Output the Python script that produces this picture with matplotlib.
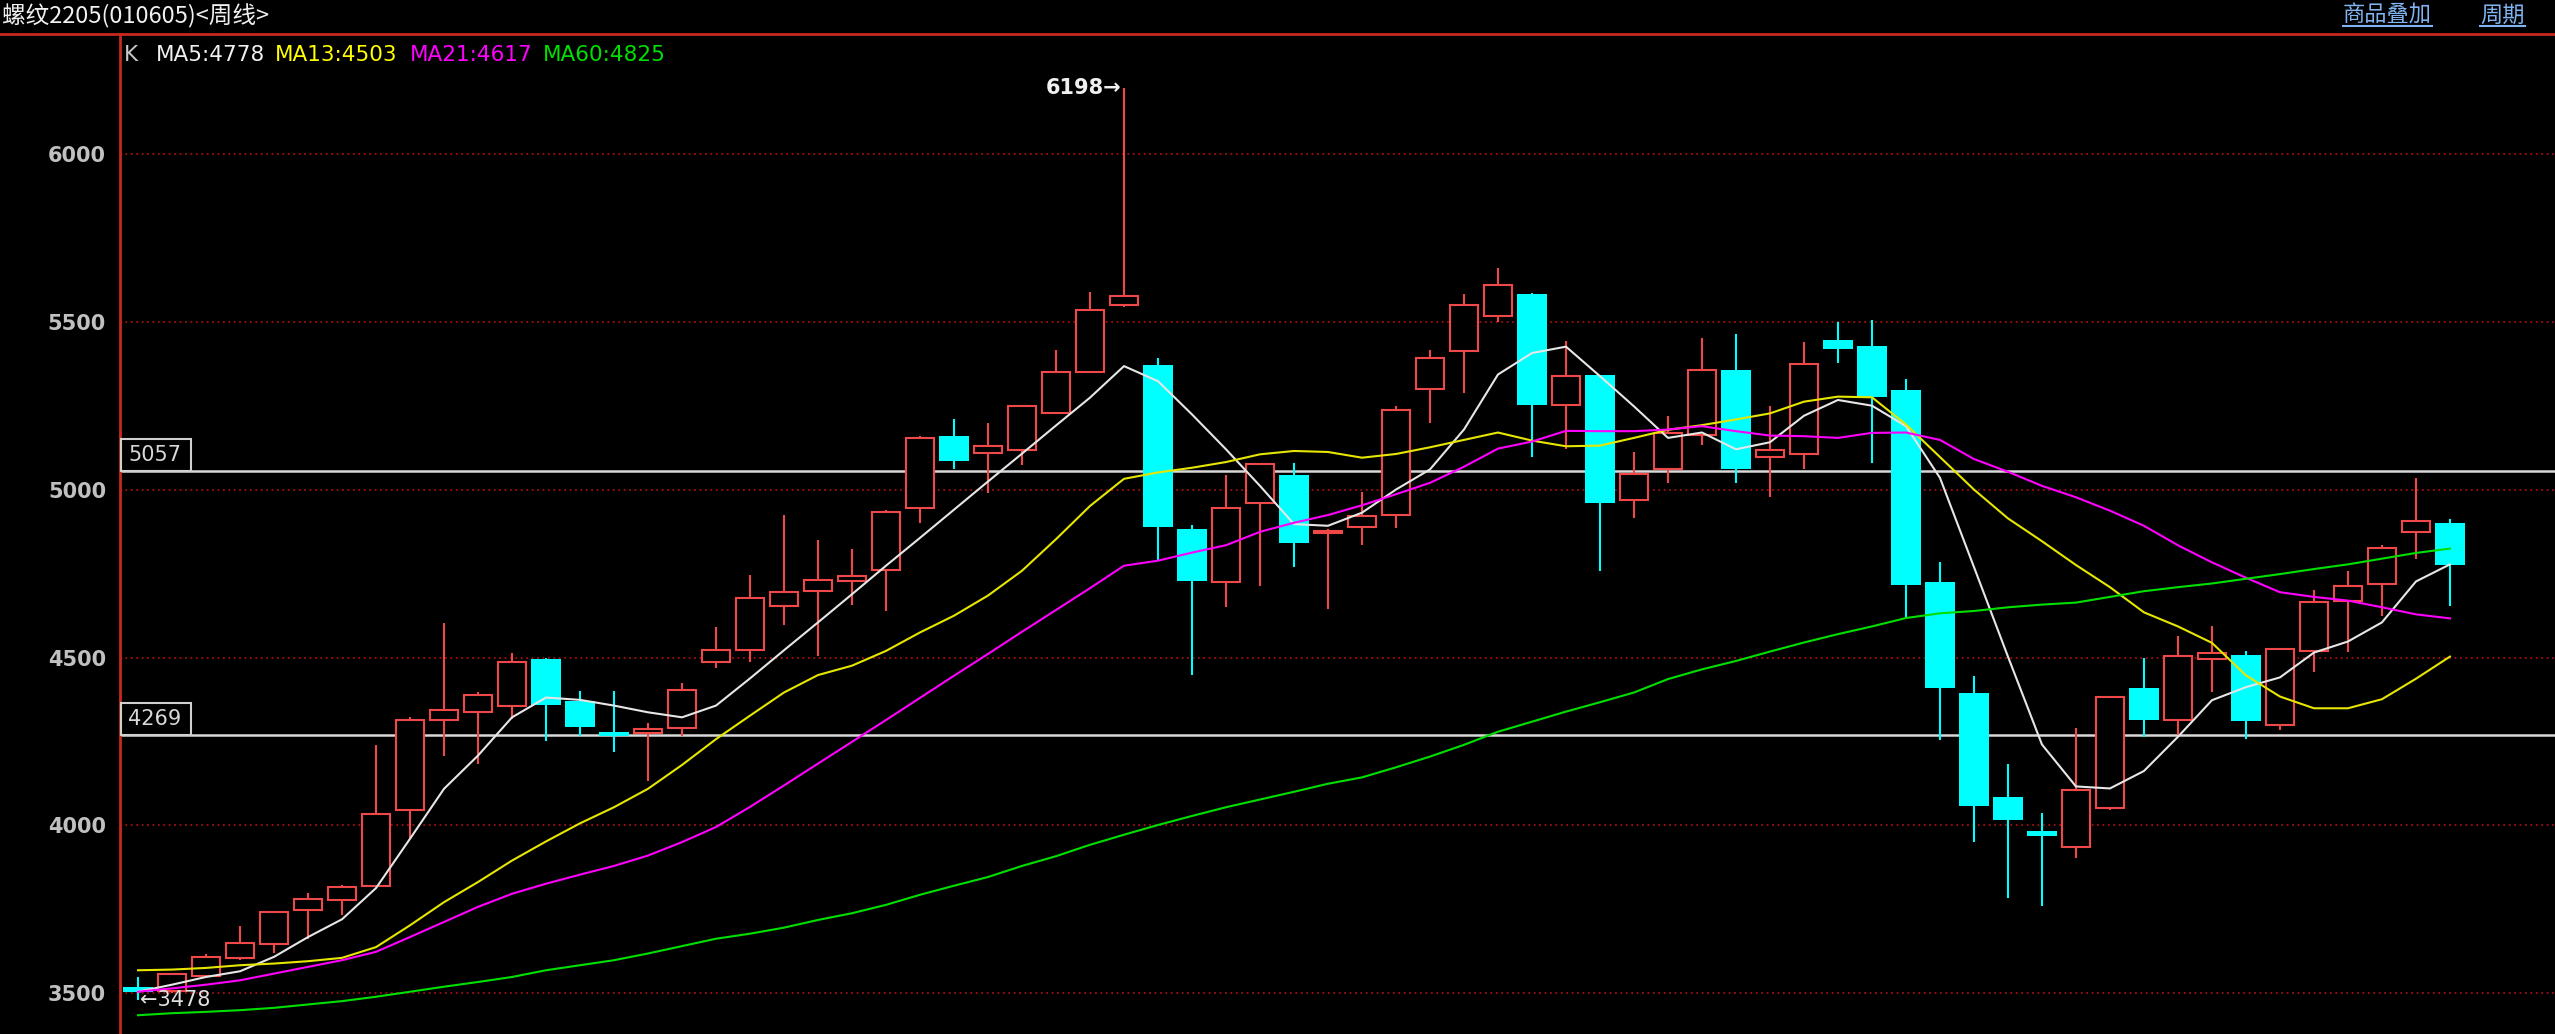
import matplotlib
matplotlib.use('Agg')
import matplotlib.pyplot as plt
from matplotlib.lines import Line2D
from matplotlib.patches import Rectangle
from matplotlib.transforms import blended_transform_factory
import numpy as np

plt.rcParams['font.family'] = ['Noto Sans CJK SC', 'DejaVu Sans']

# weekly candles, rebar 2205
opens = [3519, 3505, 3551, 3605, 3647, 3749, 3778, 3819, 4045, 4313,
         4337, 4356, 4496, 4371, 4279, 4275, 4289, 4487, 4522, 4653,
         4700, 4729, 4760, 4945, 5162, 5110, 5118, 5230, 5351, 5552,
         5371, 4883, 4724, 4962, 5043, 4871, 4890, 4925, 5302, 5415,
         5517, 5585, 5254, 5341, 4969, 5061, 5165, 5358, 5099, 5106,
         5448, 5430, 5298, 4724, 4395, 4084, 3984, 3935, 4052, 4409,
         4315, 4495, 4509, 4299, 4520, 4669, 4720, 4874, 4900]
highs = [3548, 3558, 3615, 3699, 3745, 3798, 3823, 4240, 4322, 4603,
         4398, 4513, 4500, 4399, 4399, 4305, 4424, 4590, 4746, 4926,
         4852, 4823, 4940, 5162, 5210, 5198, 5252, 5418, 5590, 6198,
         5393, 4894, 5043, 5078, 5079, 4882, 4995, 5249, 5418, 5584,
         5661, 5587, 5445, 5343, 5114, 5221, 5453, 5465, 5249, 5440,
         5501, 5507, 5330, 4784, 4444, 4183, 4038, 4290, 4386, 4499,
         4564, 4595, 4521, 4530, 4702, 4757, 4835, 5035, 4912]
lows = [3478, 3500, 3548, 3600, 3620, 3662, 3734, 3815, 3960, 4206,
        4183, 4317, 4252, 4265, 4218, 4133, 4265, 4468, 4486, 4598,
        4504, 4657, 4639, 4900, 5061, 4990, 5074, 5228, 5349, 5545,
        4788, 4448, 4652, 4712, 4770, 4646, 4836, 4885, 5200, 5289,
        5500, 5099, 5123, 4758, 4915, 5022, 5133, 5022, 4980, 5061,
        5379, 5081, 4618, 4255, 3949, 3783, 3759, 3902, 4047, 4262,
        4269, 4398, 4257, 4283, 4458, 4518, 4624, 4795, 4655]
closes = [3504, 3556, 3608, 3650, 3743, 3779, 3815, 4035, 4315, 4345,
          4388, 4488, 4360, 4294, 4265, 4286, 4404, 4523, 4678, 4696,
          4732, 4744, 4935, 5154, 5086, 5130, 5250, 5352, 5535, 5578,
          4890, 4729, 4947, 5076, 4841, 4877, 4922, 5237, 5392, 5552,
          5612, 5254, 5339, 4960, 5048, 5171, 5356, 5061, 5119, 5376,
          5420, 5277, 4715, 4410, 4058, 4016, 3969, 4104, 4384, 4315,
          4504, 4515, 4310, 4527, 4665, 4713, 4828, 4906, 4775]

ma5 = [3504, 3525, 3548, 3565, 3608, 3667, 3720, 3813, 3960, 4109,
       4208, 4322, 4381, 4374, 4357, 4337, 4322, 4357, 4438, 4522,
       4605, 4689, 4774, 4857, 4941, 5025, 5108, 5192, 5275, 5369,
       5324, 5225, 5121, 5012, 4898, 4893, 4932, 5001, 5061, 5180,
       5344, 5408, 5427, 5339, 5249, 5155, 5171, 5121, 5142, 5221,
       5268, 5251, 5190, 5036, 4770, 4503, 4241, 4116, 4110, 4162,
       4264, 4373, 4412, 4441, 4515, 4548, 4605, 4727, 4778]
ma13 = [3568, 3570, 3575, 3583, 3588, 3595, 3605, 3637, 3702, 3771,
        3831, 3895, 3952, 4006, 4054, 4109, 4180, 4257, 4327, 4396,
        4448, 4476, 4520, 4575, 4625, 4685, 4759, 4853, 4952, 5033,
        5052, 5066, 5083, 5106, 5116, 5113, 5096, 5107, 5127, 5149,
        5171, 5147, 5130, 5132, 5155, 5179, 5193, 5210, 5228, 5263,
        5278, 5276, 5195, 5098, 5001, 4915, 4847, 4776, 4710, 4635,
        4593, 4544, 4447, 4384, 4349, 4349, 4376, 4437, 4503]
ma21 = [3504, 3514, 3525, 3538, 3558, 3578, 3598, 3623, 3667, 3712,
        3757, 3796, 3826, 3853, 3879, 3910, 3950, 3995, 4055, 4119,
        4184, 4249, 4314, 4380, 4446, 4511, 4577, 4642, 4707, 4774,
        4789, 4813, 4835, 4875, 4902, 4925, 4954, 4987, 5021, 5069,
        5123, 5144, 5176, 5175, 5175, 5180, 5190, 5175, 5162, 5160,
        5155, 5170, 5171, 5149, 5092, 5054, 5012, 4978, 4938, 4893,
        4835, 4784, 4738, 4695, 4681, 4670, 4650, 4629, 4617]
ma60 = [3434, 3440, 3444, 3449, 3456, 3466, 3476, 3489, 3504, 3519,
        3533, 3548, 3568, 3583, 3598, 3618, 3640, 3662, 3677, 3695,
        3718, 3738, 3763, 3793, 3820, 3846, 3879, 3908, 3942, 3972,
        4001, 4028, 4054, 4077, 4100, 4124, 4143, 4173, 4205, 4240,
        4279, 4309, 4339, 4367, 4396, 4436, 4465, 4490, 4518, 4545,
        4570, 4593, 4618, 4632, 4639, 4650, 4658, 4664, 4681, 4698,
        4710, 4721, 4735, 4749, 4764, 4778, 4795, 4812, 4825]

ytick_values = [3500, 4000, 4500, 5000, 5500, 6000]
ref_levels = [5057, 4269]
title = '螺纹2205(010605)<周线>'

RED = '#f04848'
CYAN = '#00ffff'
GRID = '#a01010'
AXRED = '#c8281e'

W, H = 2555, 1034
fig = plt.figure(figsize=(W / 100, H / 100), dpi=100, facecolor='black')
ax = fig.add_axes([120 / W, 0, 1 - 120 / W, 1 - 34 / H])
ax.set_facecolor('black')

o = np.array(opens, float)
h = np.array(highs, float)
l = np.array(lows, float)
c = np.array(closes, float)
x = np.arange(len(c))
up = c >= o

ax.set_xlim(-0.53, 71.09)
ax.set_ylim(3378, 6359)

for v in ytick_values:
    ax.axhline(v, color=GRID, lw=1.3, ls=(0, (1, 2)), zorder=1)
for v in ref_levels:
    ax.axhline(v, color='#d8d8d8', lw=1.8, zorder=2)

# candles
ax.vlines(x[up], l[up], h[up], color=RED, lw=1.5, zorder=3)
ax.vlines(x[~up], l[~up], h[~up], color=CYAN, lw=1.5, zorder=3)
body_lo = np.minimum(o, c)
body_h = np.maximum(np.abs(c - o), 3)
ax.bar(x[up], body_h[up], bottom=body_lo[up], width=0.8,
       facecolor='black', edgecolor=RED, lw=1.5, zorder=4)
ax.bar(x[~up], body_h[~up], bottom=body_lo[~up], width=0.87,
       color=CYAN, lw=0, zorder=4)

# moving averages
ax.plot(x, ma5, color='#e6e6e6', lw=1.5, zorder=5)
ax.plot(x, ma13, color='#e6e600', lw=1.5, zorder=5)
ax.plot(x, ma21, color='#ff00ff', lw=1.5, zorder=5)
ax.plot(x, ma60, color='#00e000', lw=1.5, zorder=5)

# boxed labels for reference levels
tr = blended_transform_factory(ax.transAxes, ax.transData)
bw = 70 / (W - 120)
bh = 32 / 0.3354
for v in ref_levels:
    ax.add_patch(Rectangle((0.0005, v), bw, bh, transform=tr, facecolor='black',
                           edgecolor='#d0d0d0', lw=1.5, zorder=6, clip_on=False))
    ax.text(bw / 2, v + bh / 2, str(v), transform=tr, ha='center', va='center',
            color='#d8d8d8', fontsize=15, family='DejaVu Sans', zorder=7)

# extreme labels
imax = int(np.argmax(h))
ax.text(imax - 0.08, h[imax], f'{int(h[imax])}→', ha='right', va='center',
        color='#f0f0f0', fontsize=15, fontweight='bold', family='DejaVu Sans', zorder=7)
imin = int(np.argmin(l))
ax.text(imin + 0.05, l[imin], f'←{int(l[imin])}', ha='left', va='center',
        color='#e0e0e0', fontsize=15, family='DejaVu Sans', zorder=7)

# axes styling
ax.set_yticks(ytick_values)
ax.set_yticklabels([str(v) for v in ytick_values], family='DejaVu Sans', fontweight='bold')
ax.tick_params(axis='y', length=0, pad=10, labelcolor='#c0c0c0', labelsize=15)
ax.set_xticks([])
for s in ['top', 'right', 'bottom']:
    ax.spines[s].set_visible(False)
ax.spines['left'].set_color(AXRED)
ax.spines['left'].set_linewidth(2)

fig.add_artist(Line2D([0, 1], [1 - 34 / H, 1 - 34 / H], color=AXRED, lw=2,
                      transform=fig.transFigure))

# header
fig.text(2 / W, 1 - 16 / H, title, ha='left', va='center', color='#f0f0f0', fontsize=17)
links = [fig.text(2343 / W, 1 - 15 / H, '商品叠加', ha='left', va='center',
                  color='#80b4f0', fontsize=16),
         fig.text(2480 / W, 1 - 15 / H, '周期', ha='left', va='center',
                  color='#80b4f0', fontsize=16)]

# legend line
legend = [('K', None, '#c8c8c8', 124),
          ('MA5', ma5[-1], '#f0f0f0', 156),
          ('MA13', ma13[-1], '#ffff00', 275),
          ('MA21', ma21[-1], '#ff00ff', 410),
          ('MA60', ma60[-1], '#00e000', 543)]
for name, val, col, px in legend:
    s = name if val is None else f'{name}:{val}'
    fig.text(px / W, 1 - 55 / H, s, ha='left', va='center', color=col,
             fontsize=15.5, family='DejaVu Sans')

fig.canvas.draw()
r = fig.canvas.get_renderer()
for t in links:
    bb = t.get_window_extent(r).transformed(fig.transFigure.inverted())
    fig.add_artist(Line2D([bb.x0, bb.x1], [bb.y0 + 1 / H, bb.y0 + 1 / H], color='#80b4f0',
                          lw=1.5, transform=fig.transFigure))

fig.savefig('out.png', dpi=100, facecolor='black')
